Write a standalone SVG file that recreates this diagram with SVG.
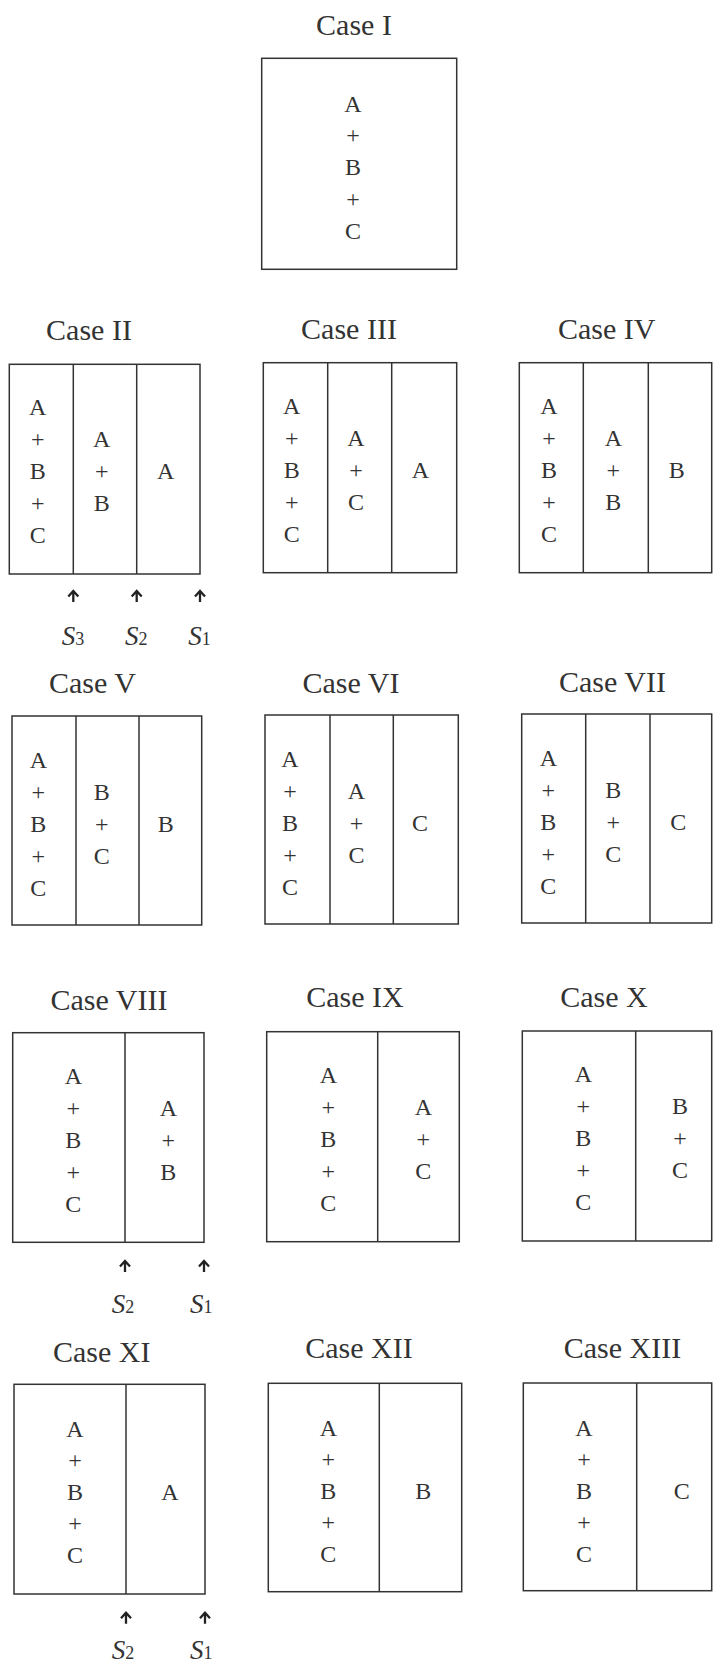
<svg xmlns="http://www.w3.org/2000/svg" xmlns:xlink="http://www.w3.org/1999/xlink" width="713" height="1667" viewBox="0 0 713 1667">
<style>
.bx{fill:none;stroke:#333;stroke-width:1.5}
.dv{stroke:#333;stroke-width:1.5}
.t{font-family:"Liberation Serif","Times New Roman",serif;font-size:30px;fill:#333;text-anchor:middle}
.c{font-family:"Liberation Serif","Times New Roman",serif;font-size:24px;fill:#333;text-anchor:middle}
.s{font-family:"Liberation Serif","Times New Roman",serif;font-size:27px;fill:#333}
.s tspan.i{font-style:italic}
.s tspan.n{font-size:18px}
.ar{fill:none;stroke:#222;stroke-width:2.3}
</style>
<defs>
<path id="arr" d="M0,12 V1.5 M-5,6.5 L0,1 L5,6.5"/>
</defs>
<rect width="713" height="1667" fill="#fff"/>

<g id="case1">
<text class="t" x="354" y="35">Case I</text>
<rect class="bx" x="261.7" y="58.3" width="195" height="211"/>
<text class="c" x="353" y="111.7">A</text><text class="c" x="353" y="143.4">+</text><text class="c" x="353" y="175.1">B</text><text class="c" x="353" y="206.8">+</text><text class="c" x="353" y="238.5">C</text>
</g>

<g id="case2">
<text class="t" x="89" y="340">Case II</text>
<rect class="bx" x="9.3" y="364.3" width="190.7" height="209.7"/>
<line class="dv" x1="73.3" y1="364.3" x2="73.3" y2="574"/><line class="dv" x1="136.7" y1="364.3" x2="136.7" y2="574"/>
<text class="c" x="37.7" y="415.3">A</text><text class="c" x="37.7" y="447.3">+</text><text class="c" x="37.7" y="479.3">B</text><text class="c" x="37.7" y="511.3">+</text><text class="c" x="37.7" y="543.3">C</text>
<text class="c" x="101.7" y="447.3">A</text><text class="c" x="101.7" y="479.3">+</text><text class="c" x="101.7" y="511.3">B</text>
<text class="c" x="165.7" y="479.3">A</text>
</g>

<g id="case3">
<text class="t" x="349" y="339">Case III</text>
<rect class="bx" x="263.3" y="362.7" width="193.4" height="210"/>
<line class="dv" x1="327.7" y1="362.7" x2="327.7" y2="572.7"/><line class="dv" x1="391.7" y1="362.7" x2="391.7" y2="572.7"/>
<text class="c" x="291.7" y="413.7">A</text><text class="c" x="291.7" y="445.7">+</text><text class="c" x="291.7" y="477.7">B</text><text class="c" x="291.7" y="509.7">+</text><text class="c" x="291.7" y="541.7">C</text>
<text class="c" x="356" y="445.7">A</text><text class="c" x="356" y="477.7">+</text><text class="c" x="356" y="509.7">C</text>
<text class="c" x="420.5" y="477.7">A</text>
</g>

<g id="case4">
<text class="t" x="606.7" y="339">Case IV</text>
<rect class="bx" x="519.3" y="362.7" width="192.4" height="210"/>
<line class="dv" x1="583.3" y1="362.7" x2="583.3" y2="572.7"/><line class="dv" x1="648.3" y1="362.7" x2="648.3" y2="572.7"/>
<text class="c" x="549" y="413.7">A</text><text class="c" x="549" y="445.7">+</text><text class="c" x="549" y="477.7">B</text><text class="c" x="549" y="509.7">+</text><text class="c" x="549" y="541.7">C</text>
<text class="c" x="613.3" y="445.7">A</text><text class="c" x="613.3" y="477.7">+</text><text class="c" x="613.3" y="509.7">B</text>
<text class="c" x="676.7" y="477.7">B</text>
</g>

<g id="case5">
<text class="t" x="92.5" y="693">Case V</text>
<rect class="bx" x="12" y="716" width="189.7" height="209"/>
<line class="dv" x1="76" y1="716" x2="76" y2="925"/><line class="dv" x1="139" y1="716" x2="139" y2="925"/>
<text class="c" x="38.3" y="767.5">A</text><text class="c" x="38.3" y="799.5">+</text><text class="c" x="38.3" y="831.5">B</text><text class="c" x="38.3" y="863.5">+</text><text class="c" x="38.3" y="895.5">C</text>
<text class="c" x="101.7" y="799.5">B</text><text class="c" x="101.7" y="831.5">+</text><text class="c" x="101.7" y="863.5">C</text>
<text class="c" x="165.7" y="831.5">B</text>
</g>

<g id="case6">
<text class="t" x="351" y="693">Case VI</text>
<rect class="bx" x="265" y="715" width="193.3" height="209"/>
<line class="dv" x1="330" y1="715" x2="330" y2="924"/><line class="dv" x1="393.3" y1="715" x2="393.3" y2="924"/>
<text class="c" x="290" y="766.5">A</text><text class="c" x="290" y="798.5">+</text><text class="c" x="290" y="830.5">B</text><text class="c" x="290" y="862.5">+</text><text class="c" x="290" y="894.5">C</text>
<text class="c" x="356.5" y="798.5">A</text><text class="c" x="356.5" y="830.5">+</text><text class="c" x="356.5" y="862.5">C</text>
<text class="c" x="420" y="830.5">C</text>
</g>

<g id="case7">
<text class="t" x="612.5" y="691.7">Case VII</text>
<rect class="bx" x="521.7" y="714" width="190" height="209"/>
<line class="dv" x1="585.7" y1="714" x2="585.7" y2="923"/><line class="dv" x1="650" y1="714" x2="650" y2="923"/>
<text class="c" x="548.3" y="765.5">A</text><text class="c" x="548.3" y="797.5">+</text><text class="c" x="548.3" y="829.5">B</text><text class="c" x="548.3" y="861.5">+</text><text class="c" x="548.3" y="893.5">C</text>
<text class="c" x="613.3" y="797.5">B</text><text class="c" x="613.3" y="829.5">+</text><text class="c" x="613.3" y="861.5">C</text>
<text class="c" x="678.3" y="829.5">C</text>
</g>

<g id="case8">
<text class="t" x="109" y="1010">Case VIII</text>
<rect class="bx" x="12.7" y="1032.7" width="191.3" height="209.6"/>
<line class="dv" x1="125" y1="1032.7" x2="125" y2="1242.3"/>
<text class="c" x="73.3" y="1083.5">A</text><text class="c" x="73.3" y="1115.5">+</text><text class="c" x="73.3" y="1147.5">B</text><text class="c" x="73.3" y="1179.5">+</text><text class="c" x="73.3" y="1211.5">C</text>
<text class="c" x="168.3" y="1115.5">A</text><text class="c" x="168.3" y="1147.5">+</text><text class="c" x="168.3" y="1179.5">B</text>
</g>

<g id="case9">
<text class="t" x="355" y="1007">Case IX</text>
<rect class="bx" x="266.7" y="1031.7" width="192.6" height="210"/>
<line class="dv" x1="377.7" y1="1031.7" x2="377.7" y2="1241.7"/>
<text class="c" x="328.3" y="1082.5">A</text><text class="c" x="328.3" y="1114.5">+</text><text class="c" x="328.3" y="1146.5">B</text><text class="c" x="328.3" y="1178.5">+</text><text class="c" x="328.3" y="1210.5">C</text>
<text class="c" x="423.3" y="1114.5">A</text><text class="c" x="423.3" y="1146.5">+</text><text class="c" x="423.3" y="1178.5">C</text>
</g>

<g id="case10">
<text class="t" x="604" y="1006.7">Case X</text>
<rect class="bx" x="522.3" y="1031" width="189.4" height="210"/>
<line class="dv" x1="635.7" y1="1031" x2="635.7" y2="1241"/>
<text class="c" x="583.3" y="1081.7">A</text><text class="c" x="583.3" y="1113.7">+</text><text class="c" x="583.3" y="1145.7">B</text><text class="c" x="583.3" y="1177.7">+</text><text class="c" x="583.3" y="1209.7">C</text>
<text class="c" x="680" y="1113.7">B</text><text class="c" x="680" y="1145.7">+</text><text class="c" x="680" y="1177.7">C</text>
</g>

<g id="case11">
<text class="t" x="101.7" y="1361.7">Case XI</text>
<rect class="bx" x="14" y="1384.3" width="191" height="209.7"/>
<line class="dv" x1="126" y1="1384.3" x2="126" y2="1594"/>
<text class="c" x="75" y="1436.7">A</text><text class="c" x="75" y="1468.2">+</text><text class="c" x="75" y="1499.7">B</text><text class="c" x="75" y="1531.2">+</text><text class="c" x="75" y="1562.7">C</text>
<text class="c" x="170" y="1500">A</text>
</g>

<g id="case12">
<text class="t" x="359" y="1358">Case XII</text>
<rect class="bx" x="268.3" y="1383.3" width="193.4" height="208.4"/>
<line class="dv" x1="379.3" y1="1383.3" x2="379.3" y2="1591.7"/>
<text class="c" x="328.3" y="1435.5">A</text><text class="c" x="328.3" y="1467">+</text><text class="c" x="328.3" y="1498.5">B</text><text class="c" x="328.3" y="1530">+</text><text class="c" x="328.3" y="1561.5">C</text>
<text class="c" x="423.3" y="1498.5">B</text>
</g>

<g id="case13">
<text class="t" x="622.5" y="1358">Case XIII</text>
<rect class="bx" x="523.3" y="1383" width="188.4" height="207.7"/>
<line class="dv" x1="636.7" y1="1383" x2="636.7" y2="1590.7"/>
<text class="c" x="584" y="1435.5">A</text><text class="c" x="584" y="1467">+</text><text class="c" x="584" y="1498.5">B</text><text class="c" x="584" y="1530">+</text><text class="c" x="584" y="1561.5">C</text>
<text class="c" x="681.7" y="1498.5">C</text>
</g>

<g id="connectors">
<use class="ar" href="#arr" x="73.3" y="590"/>
<use class="ar" href="#arr" x="136.7" y="590"/>
<use class="ar" href="#arr" x="200" y="590"/>
<use class="ar" href="#arr" x="125" y="1260"/>
<use class="ar" href="#arr" x="204" y="1260"/>
<use class="ar" href="#arr" x="126" y="1611.7"/>
<use class="ar" href="#arr" x="205" y="1611.7"/>
</g>

<g id="labels">
<text class="s" x="61.7" y="645"><tspan class="i">S</tspan><tspan class="n">3</tspan></text>
<text class="s" x="125" y="645"><tspan class="i">S</tspan><tspan class="n">2</tspan></text>
<text class="s" x="188.3" y="645"><tspan class="i">S</tspan><tspan class="n">1</tspan></text>
<text class="s" x="111.7" y="1313.3"><tspan class="i">S</tspan><tspan class="n">2</tspan></text>
<text class="s" x="190" y="1313.3"><tspan class="i">S</tspan><tspan class="n">1</tspan></text>
<text class="s" x="111.7" y="1659"><tspan class="i">S</tspan><tspan class="n">2</tspan></text>
<text class="s" x="190" y="1659"><tspan class="i">S</tspan><tspan class="n">1</tspan></text>
</g>
</svg>
